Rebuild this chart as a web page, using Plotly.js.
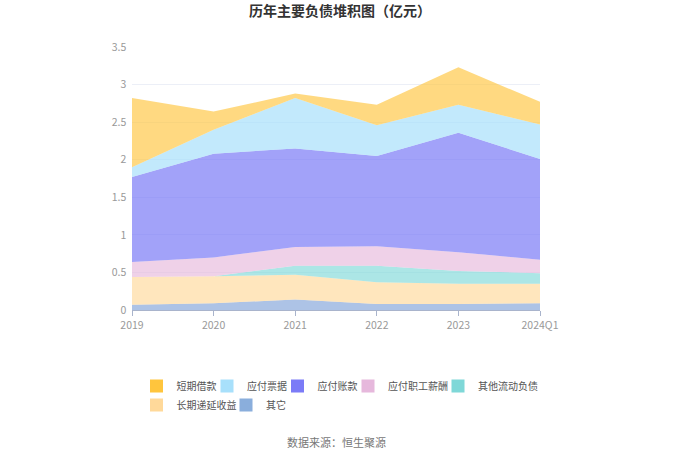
<!DOCTYPE html>
<html>
<head>
<meta charset="utf-8">
<script src="https://cdn.plot.ly/plotly-3.0.1.min.js"></script>
<style>html,body{margin:0;padding:0;background:#fff;}#chart{width:680px;height:460px;}</style>
</head>
<body>
<div id="chart"></div>
<script>
const years = ["2019", "2020", "2021", "2022", "2023", "2024Q1"];
const shortLoans = [0.92, 0.24, 0.06, 0.27, 0.50, 0.30];
const notesPayable = [0.13, 0.32, 0.67, 0.41, 0.37, 0.46];
const accountsPayable = [1.13, 1.38, 1.31, 1.20, 1.59, 1.34];
const payroll = [0.20, 0.25, 0.25, 0.26, 0.25, 0.18];
const otherCurrent = [0.00, 0.00, 0.12, 0.22, 0.17, 0.14];
const deferredIncome = [0.37, 0.36, 0.33, 0.29, 0.27, 0.26];
const others = [0.07, 0.09, 0.14, 0.08, 0.08, 0.09];

// bottom of stack first
const series = [
  {name: "其它", y: others, fill: "rgba(138,170,220,0.7)", leg: "#8aaedc", lg: "legend7"},
  {name: "长期递延收益", y: deferredIncome, fill: "rgba(255,217,154,0.65)", leg: "#ffd99a", lg: "legend6"},
  {name: "其他流动负债", y: otherCurrent, fill: "rgba(127,216,216,0.65)", leg: "#7fd8d8", lg: "legend5"},
  {name: "应付职工薪酬", y: payroll, fill: "rgba(230,184,220,0.65)", leg: "#e6b8dc", lg: "legend4"},
  {name: "应付账款", y: accountsPayable, fill: "rgba(123,123,247,0.7)", leg: "#7b7bf7", lg: "legend3"},
  {name: "应付票据", y: notesPayable, fill: "rgba(168,224,251,0.7)", leg: "#a8e0fb", lg: "legend2"},
  {name: "短期借款", y: shortLoans, fill: "rgba(255,197,61,0.65)", leg: "#ffc53d", lg: "legend"}
];

const areaTraces = series.map(s => ({
  type: "scatter",
  mode: "lines",
  x: years,
  y: s.y,
  name: s.name,
  stackgroup: "one",
  fillcolor: s.fill,
  line: {width: 0, color: s.leg},
  showlegend: false,
  hoverinfo: "x+y+name"
}));

// legend keys (no data, only the swatch + name in each legend box)
const keyTraces = series.map(s => ({
  type: "scatter",
  mode: "markers",
  x: [null],
  y: [null],
  name: s.name,
  legend: s.lg,
  showlegend: true,
  marker: {symbol: "square", size: 13, color: s.leg, line: {width: 0}},
  hoverinfo: "skip"
}));

// plot area: left 132, width 408, top 47, height 263
const PL = 132, PW = 408, PT = 47, PH = 263;
function px2x(px) { return (px - PL) / PW; }
function py2y(py) { return (PT + PH - py) / PH; }

function legendAt(swatchCenterX, rowY) {
  return {
    orientation: "h",
    x: px2x(swatchCenterX - 22), xanchor: "left",
    y: py2y(rowY), yanchor: "middle",
    font: {size: 10, color: "#555"},
    itemwidth: 30,
    bgcolor: "rgba(0,0,0,0)",
    borderwidth: 0
  };
}

const layout = {
  width: 680,
  height: 460,
  margin: {l: PL, r: 680 - PL - PW, t: PT, b: 460 - PT - PH},
  paper_bgcolor: "#fff",
  plot_bgcolor: "#fff",
  font: {family: "'Noto Sans CJK SC', 'Noto Sans', sans-serif", color: "#666"},
  title: {
    text: "<b>历年主要负债堆积图（亿元）</b>",
    x: 0.5, xanchor: "center", y: 0.975, yanchor: "middle",
    font: {size: 14, color: "#333"}
  },
  xaxis: {
    type: "category",
    range: [0, 5],
    showgrid: false,
    showline: true,
    linecolor: "#a9b4cc",
    linewidth: 1,
    ticks: "outside",
    ticklen: 5,
    tickcolor: "#a9b4cc",
    tickfont: {size: 10.5, color: "#999"},
    zeroline: false
  },
  yaxis: {
    range: [0, 3.5],
    dtick: 0.5,
    showgrid: true,
    gridcolor: "#eceff7",
    gridwidth: 1,
    showline: false,
    zeroline: false,
    tickfont: {size: 10.5, color: "#999"},
    ticksuffix: "  "
  },
  showlegend: true,
  legend: legendAt(158.5, 386),
  legend2: legendAt(229, 386),
  legend3: legendAt(299.5, 386),
  legend4: legendAt(370, 386),
  legend5: legendAt(460, 386),
  legend6: legendAt(158.5, 405),
  legend7: legendAt(248, 405),
  annotations: [{
    text: "数据来源：恒生聚源",
    xref: "paper", yref: "paper",
    x: 0.5, y: py2y(442), xanchor: "center", yanchor: "middle",
    showarrow: false,
    font: {size: 11, color: "#777"}
  }]
};

Plotly.newPlot("chart", areaTraces.concat(keyTraces), layout, {displayModeBar: false, staticPlot: true});
</script>
</body>
</html>
